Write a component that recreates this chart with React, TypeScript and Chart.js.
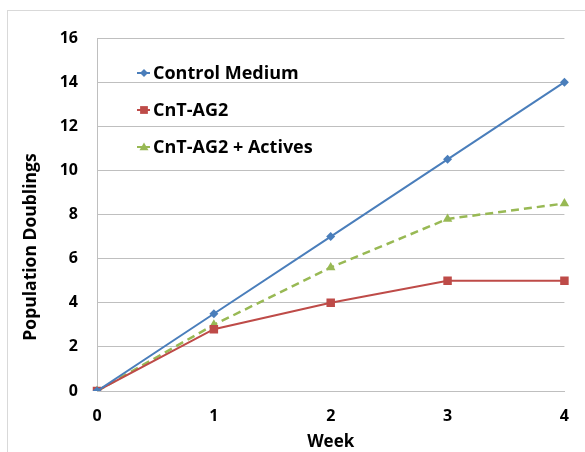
import React, { useEffect, useRef } from "react";
import { Chart, registerables } from "chart.js";

Chart.register(...registerables);

const weeks = ["0", "1", "2", "3", "4"];
const controlMedium = [0, 3.5, 7, 10.5, 14];
const cntAg2 = [0, 2.8, 4, 5, 5];
const cntAg2Actives = [0, 3.0, 5.6, 7.8, 8.5];
const seriesNames = ["Control Medium", "CnT-AG2", "CnT-AG2 + Actives"];
const yTitle = "Population Doublings";
const xTitle = "Week";

const FONT = "'Open Sans', 'Liberation Sans', sans-serif";
const BLUE = "#4a7ebb";
const RED = "#be4b48";
const GREEN = "#98b954";

function drawMarker(ctx: CanvasRenderingContext2D, shape: string, x: number, y: number, r: number, color: string) {
  ctx.save();
  ctx.fillStyle = color;
  ctx.beginPath();
  if (shape === "rectRot") {
    ctx.moveTo(x, y - r);
    ctx.lineTo(x + r, y);
    ctx.lineTo(x, y + r);
    ctx.lineTo(x - r, y);
    ctx.closePath();
  } else if (shape === "rect") {
    const s = r * Math.SQRT1_2;
    ctx.rect(x - s, y - s, 2 * s, 2 * s);
  } else {
    ctx.moveTo(x, y - r);
    ctx.lineTo(x + r, y + r * 0.7);
    ctx.lineTo(x - r, y + r * 0.7);
    ctx.closePath();
  }
  ctx.fill();
  ctx.restore();
}

const decorPlugin = {
  id: "decor",
  beforeDraw(chart: any) {
    const ctx = chart.ctx;
    ctx.save();
    ctx.fillStyle = "#ffffff";
    ctx.fillRect(0, 0, chart.width, chart.height);
    ctx.strokeStyle = "#d9d9d9";
    ctx.lineWidth = 1;
    ctx.strokeRect(7.5, 10.5, 700, 600);
    ctx.restore();
  },
  afterDraw(chart: any) {
    const ctx = chart.ctx;
    const area = chart.chartArea;
    ctx.save();
    ctx.fillStyle = "#000000";
    ctx.font = `bold 17px ${FONT}`;
    ctx.textAlign = "center";
    ctx.textBaseline = "middle";
    ctx.fillText(xTitle, (area.left + area.right) / 2, 442);
    ctx.save();
    ctx.translate(31, 247);
    ctx.rotate(-Math.PI / 2);
    ctx.font = `bold 17.5px ${FONT}`;
    ctx.fillText(yTitle, 0, 0);
    ctx.restore();

    const rows = [73, 110, 147];
    const styles = [
      { color: BLUE, shape: "rectRot", r: 4 },
      { color: RED, shape: "rect", r: 5.5 },
      { color: GREEN, shape: "triangle", r: 4.5 },
    ];
    ctx.textAlign = "left";
    rows.forEach((y, i) => {
      const s = styles[i];
      const x0 = area.left + 40;
      ctx.strokeStyle = s.color;
      ctx.lineWidth = 2;
      ctx.beginPath();
      ctx.moveTo(x0, y);
      ctx.lineTo(x0 + 13, y);
      ctx.stroke();
      drawMarker(ctx, s.shape, x0 + 7, y, s.r, s.color);
      ctx.fillStyle = "#000000";
      ctx.font = `bold 18px ${FONT}`;
      ctx.fillText(seriesNames[i], x0 + 16, y + 1);
    });
    ctx.restore();
  },
};

export default function App() {
  const ref = useRef<HTMLCanvasElement>(null);
  useEffect(() => {
    if (!ref.current) return;
    const chart = new Chart(ref.current, {
      type: "line",
      data: {
        labels: weeks,
        datasets: [
          {
            label: seriesNames[0],
            data: controlMedium,
            borderColor: BLUE,
            backgroundColor: BLUE,
            borderWidth: 2,
            pointStyle: "rectRot",
            pointRadius: 4.5,
            pointBorderWidth: 0,
            tension: 0,
          },
          {
            label: seriesNames[1],
            data: cntAg2,
            borderColor: RED,
            backgroundColor: RED,
            borderWidth: 2,
            pointStyle: "rect",
            pointRadius: 6,
            pointBorderWidth: 0,
            tension: 0,
          },
          {
            label: seriesNames[2],
            data: cntAg2Actives,
            borderColor: GREEN,
            backgroundColor: GREEN,
            borderWidth: 2.5,
            borderDash: [8, 5],
            pointStyle: "triangle",
            pointRadius: 5.5,
            pointBorderWidth: 0,
            tension: 0,
          },
        ],
      },
      options: {
        responsive: false,
        animation: false,
        devicePixelRatio: 1,
        layout: { padding: { top: 38, right: 20, left: 0, bottom: 0 } },
        plugins: { legend: { display: false }, tooltip: { enabled: false } },
        scales: {
          x: {
            offset: false,
            grid: { display: false, drawTicks: false },
            border: { display: true, color: "#bfbfbf" },
            ticks: {
              color: "#000",
              padding: 16,
              font: { family: FONT, size: 16, weight: "bold" },
              maxRotation: 0,
            },
            afterFit: (scale: any) => {
              scale.height = 61;
            },
          },
          y: {
            min: 0,
            max: 16,
            ticks: {
              stepSize: 2,
              color: "#000",
              padding: 19,
              font: { family: FONT, size: 16, weight: "bold" },
            },
            grid: { color: "#bfbfbf", drawTicks: false },
            border: { display: true, color: "#bfbfbf" },
            afterFit: (scale: any) => {
              scale.width = 97;
            },
          },
        },
      },
      plugins: [decorPlugin],
    });
    return () => chart.destroy();
  }, []);
  return (
    <div style={{ position: "fixed", left: 0, top: 0, width: 585, height: 452 }}>
      <canvas ref={ref} width={585} height={452} style={{ display: "block" }} />
    </div>
  );
}
